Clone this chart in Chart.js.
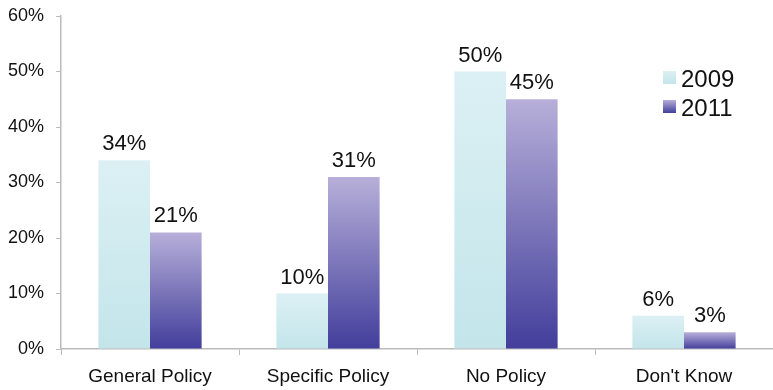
<!DOCTYPE html>
<html>
<head>
<meta charset="utf-8">
<style>
  html, body { margin: 0; padding: 0; background: #fff; }
  #wrap { position: relative; width: 773px; height: 390px; }
</style>
<script src="https://cdn.jsdelivr.net/npm/chart.js@4/dist/chart.umd.min.js"></script>
</head>
<body>
<div id="wrap"><canvas id="c" width="773" height="390"></canvas></div>
<script>
const categories = ['General Policy', 'Specific Policy', 'No Policy', "Don't Know"];
const seriesNames = ['2009', '2011'];
const values2009 = [34, 10, 50, 6];
const values2011 = [21, 31, 45, 3];
const yTicks = [0, 10, 20, 30, 40, 50, 60];

const FONT = '"Liberation Sans", Arial, Helvetica, sans-serif';
const stops = {
  '2009': ['#dcf0f4', '#c3e5ea'],
  '2011': ['#b7afd9', '#423e9b']
};

// Vertical gradient spanning each individual bar
function barFill(name) {
  return function (ctx) {
    const chart = ctx.chart;
    const y = chart.scales && chart.scales.y;
    if (!chart.chartArea || !y || ctx.parsed == null) return stops[name][1];
    const top = y.getPixelForValue(ctx.parsed.y);
    const bottom = y.getPixelForValue(0);
    const g = chart.ctx.createLinearGradient(0, top, 0, bottom);
    g.addColorStop(0, stops[name][0]);
    g.addColorStop(1, stops[name][1]);
    return g;
  };
}

// Value labels above each bar
const valueLabels = {
  id: 'valueLabels',
  afterDatasetsDraw(chart) {
    const c = chart.ctx;
    c.save();
    c.font = '22px ' + FONT;
    c.fillStyle = '#111';
    c.textAlign = 'center';
    c.textBaseline = 'alphabetic';
    chart.data.datasets.forEach((ds, di) => {
      chart.getDatasetMeta(di).data.forEach((bar, i) => {
        c.fillText(ds.data[i] + '%', bar.x, bar.y - 10);
      });
    });
    c.restore();
  }
};

// Legend block in the upper right corner of the plot
const cornerLegend = {
  id: 'cornerLegend',
  afterDraw(chart) {
    const c = chart.ctx;
    c.save();
    c.font = '24px ' + FONT;
    c.fillStyle = '#111';
    c.textBaseline = 'alphabetic';
    seriesNames.forEach((name, k) => {
      const sy = 71 + k * 29;
      const g = c.createLinearGradient(0, sy, 0, sy + 13);
      g.addColorStop(0, stops[name][0]);
      g.addColorStop(1, stops[name][1]);
      c.fillStyle = g;
      c.fillRect(663, sy, 13, 13);
      c.fillStyle = '#111';
      c.fillText(name, 681, sy + 16);
    });
    c.restore();
  }
};

new Chart(document.getElementById('c'), {
  type: 'bar',
  data: {
    labels: categories,
    datasets: [
      { label: seriesNames[0], data: values2009, backgroundColor: barFill('2009'),
        categoryPercentage: 0.58, barPercentage: 1.0 },
      { label: seriesNames[1], data: values2011, backgroundColor: barFill('2011'),
        categoryPercentage: 0.58, barPercentage: 1.0 }
    ]
  },
  options: {
    responsive: false,
    animation: false,
    layout: { padding: { top: 16, right: 0, left: 0, bottom: 0 } },
    plugins: { legend: { display: false }, tooltip: { enabled: false } },
    scales: {
      x: {
        grid: { display: true, drawOnChartArea: false, offset: true, tickLength: 6, color: '#bbbbbb' },
        border: { color: '#bbbbbb', width: 1.5 },
        ticks: { color: '#111', font: { family: FONT, size: 19 }, padding: 10, maxRotation: 0, autoSkip: false },
        afterFit(s) { s.height = 41; s.paddingLeft = 0; s.paddingRight = 0; }
      },
      y: {
        min: 0, max: 60,
        afterBuildTicks(s) { s.ticks = yTicks.map(v => ({ value: v })); },
        grid: { display: true, drawOnChartArea: false, tickLength: 5, color: '#bbbbbb' },
        border: { color: '#bbbbbb', width: 1.5 },
        ticks: { color: '#111', font: { family: FONT, size: 18 }, padding: 12,
                 callback: v => v + '%' },
        afterFit(s) { s.width = 61; s.paddingTop = 0; s.paddingBottom = 0; }
      }
    }
  },
  plugins: [valueLabels, cornerLegend]
});
</script>
</body>
</html>
